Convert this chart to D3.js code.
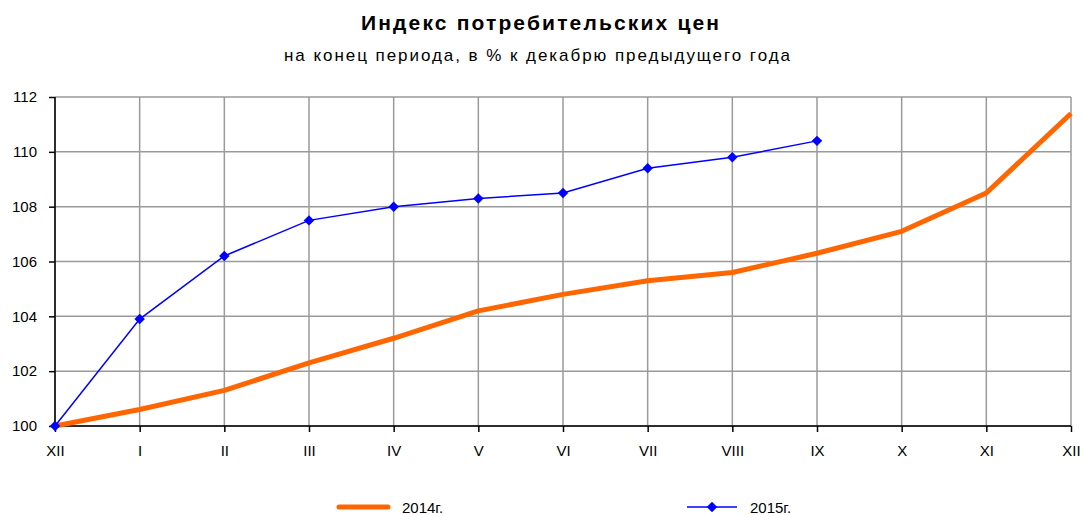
<!DOCTYPE html>
<html>
<head>
<meta charset="utf-8">
<script src="https://cdn.jsdelivr.net/npm/d3@7"></script>
<style>
  body { margin: 0; background: #fff; }
  text { font-family: "Liberation Sans", Arial, sans-serif; }
</style>
</head>
<body>
<div id="root"></div>
<script>
// Data
const months = ['XII', 'I', 'II', 'III', 'IV', 'V', 'VI', 'VII', 'VIII', 'IX', 'X', 'XI', 'XII '];
const cpi2014 = [100, 100.6, 101.3, 102.3, 103.2, 104.2, 104.8, 105.3, 105.6, 106.3, 107.1, 108.5, 111.4];
const cpi2015 = [100, 103.9, 106.2, 107.5, 108.0, 108.3, 108.5, 109.4, 109.8, 110.4];
const yTicks = [100, 102, 104, 106, 108, 110, 112];

let width = 1083, height = 515;
let margin = {top: 97, right: 12, bottom: 89, left: 55};

var svg = d3.select('#root')
  .append('svg')
  .attr('width', width)
  .attr('height', height);

// Title
svg.append('text')
  .attr('x', 540).attr('y', 30)
  .attr('text-anchor', 'middle')
  .attr('textLength', 358)
  .attr('lengthAdjust', 'spacing')
  .style('font-size', '21px')
  .style('font-weight', 'bold')
  .text('Индекс потребительских цен');
svg.append('text')
  .attr('x', 537).attr('y', 61)
  .attr('text-anchor', 'middle')
  .attr('textLength', 506)
  .attr('lengthAdjust', 'spacing')
  .style('font-size', '17px')
  .text('на конец периода, в % к декабрю предыдущего года');

var xScale = d3.scalePoint()
  .domain(months)
  .range([margin.left, width - margin.right]);

var yScale = d3.scaleLinear()
  .domain([100, 112])
  .range([height - margin.bottom, margin.top]);

// grid
var grid = svg.append('g');
grid.selectAll('line.h')
  .data(yTicks)
  .enter().append('line')
  .attr('x1', margin.left).attr('x2', width - margin.right)
  .attr('y1', d => yScale(d)).attr('y2', d => yScale(d))
  .attr('stroke', '#9a9a9a').attr('stroke-width', 1.5);
grid.selectAll('line.v')
  .data(months)
  .enter().append('line')
  .attr('x1', d => xScale(d)).attr('x2', d => xScale(d))
  .attr('y1', margin.top).attr('y2', height - margin.bottom)
  .attr('stroke', '#9a9a9a').attr('stroke-width', 1.5);

// axes
var xAxis = d3.axisBottom(xScale).tickSize(6).tickPadding(13).tickFormat(d => d.trim());
svg.append('g')
  .attr('transform', 'translate(' + [0, height - margin.bottom] + ')')
  .call(xAxis)
  .call(g => g.select('.domain').attr('d', 'M' + margin.left + ',0H' + (width - margin.right)).attr('stroke', '#000').attr('stroke-width', 1.5))
  .call(g => g.selectAll('.tick line').attr('stroke', '#000').attr('stroke-width', 1.5))
  .call(g => g.selectAll('.tick text').style('font-size', '15px').attr('fill', '#000').attr('font-family', null));

var yAxis = d3.axisLeft(yScale).tickValues(yTicks).tickSize(6).tickPadding(12);
svg.append('g')
  .attr('transform', 'translate(' + [margin.left, 0] + ')')
  .call(yAxis)
  .call(g => g.select('.domain').attr('d', 'M0,' + margin.top + 'V' + (height - margin.bottom)).attr('stroke', '#000').attr('stroke-width', 1.5))
  .call(g => g.selectAll('.tick line').attr('stroke', '#000').attr('stroke-width', 1.5))
  .call(g => g.selectAll('.tick text').style('font-size', '15px').attr('fill', '#000').attr('font-family', null));

// lines
var line = d3.line()
  .x((d, i) => xScale(months[i]))
  .y(d => yScale(d));

svg.append('path')
  .datum(cpi2014)
  .attr('d', line)
  .attr('fill', 'none')
  .attr('stroke', '#ff6600')
  .attr('stroke-width', 5)
  .attr('stroke-linejoin', 'round');

svg.append('path')
  .datum(cpi2015)
  .attr('d', line)
  .attr('fill', 'none')
  .attr('stroke', '#0000ff')
  .attr('stroke-width', 1.5);

var diamond = d3.symbol().type(d3.symbolDiamond2).size(70);
svg.append('g').selectAll('path')
  .data(cpi2015)
  .enter().append('path')
  .attr('d', diamond)
  .attr('transform', (d, i) => 'translate(' + [xScale(months[i]), yScale(d)] + ')')
  .attr('fill', '#0000ff');

// legend
var lg = svg.append('g');
lg.append('line')
  .attr('x1', 339).attr('x2', 388).attr('y1', 507).attr('y2', 507)
  .attr('stroke', '#ff6600').attr('stroke-width', 5).attr('stroke-linecap', 'round');
lg.append('text').attr('x', 402).attr('y', 513).style('font-size', '15px').text('2014г.');
lg.append('line')
  .attr('x1', 687).attr('x2', 737).attr('y1', 507).attr('y2', 507)
  .attr('stroke', '#0000ff').attr('stroke-width', 1.5);
lg.append('path').attr('d', diamond).attr('transform', 'translate(712,507)').attr('fill', '#0000ff');
lg.append('text').attr('x', 750).attr('y', 513).style('font-size', '15px').text('2015г.');
</script>
</body>
</html>
